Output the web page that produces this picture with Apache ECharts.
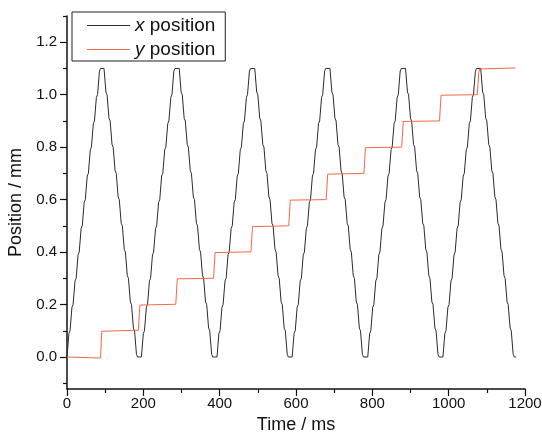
<!DOCTYPE html>
<html>
<head>
<meta charset="utf-8">
<script src="https://cdn.jsdelivr.net/npm/echarts@6/dist/echarts.min.js"></script>
<style>
html,body{margin:0;padding:0;background:#fff;}
#chart{width:542px;height:433px;}
</style>
</head>
<body>
<div id="chart"></div>
<script>
// ---- data ----
// x position: times (ms) of the kink points of each ramp (up, down, up, down ...)
const xRampTimes = [
  [0,5,8,13,16,21,24,29,32,37,40,45,48,53,56,61,64,69,72,77,80,85,88],
  [97,102,105,110,113,118,121,126,129,134,137,142,145,150,153,158,161,166,169,174,177,182,185],
  [195,200,203,208,211,216,219,224,227,232,235,240,243,248,251,256,259,264,267,272,275,280,283],
  [294,299,302,307,310,315,318,323,326,331,334,339,342,347,350,355,358,363,366,371,374,379,382],
  [393,398,401,406,409,414,417,422,425,430,433,438,441,446,449,454,457,462,465,470,473,478,481],
  [492,497,500,505,508,513,516,521,524,529,532,537,540,545,548,553,556,561,564,569,572,577,580],
  [590,595,598,603,606,611,614,619,622,627,630,635,638,643,646,651,654,659,662,667,670,675,678],
  [689,694,697,702,705,710,713,718,721,726,729,734,737,742,745,750,753,758,761,766,769,774,777],
  [788,793,796,801,804,809,812,817,820,825,828,833,836,841,844,849,852,857,860,865,868,873,876],
  [887,892,895,900,903,908,911,916,919,924,927,932,935,940,943,948,951,956,959,964,967,972,975],
  [985,990,993,998,1001,1006,1009,1014,1017,1022,1025,1030,1033,1038,1041,1046,1049,1054,1057,1062,1065,1070,1073],
  [1084,1089,1092,1097,1100,1105,1108,1113,1116,1121,1124,1129,1132,1137,1140,1145,1148,1153,1156,1161,1164,1169,1172]
];
// x position values (mm) at those kink points, for rising and falling ramps
const xLevelsUp = [0,0.09,0.1,0.19,0.2,0.29,0.3,0.39,0.4,0.49,0.5,0.59,0.6,0.69,0.7,0.79,0.8,0.89,0.9,0.99,1.0,1.09,1.1];
const xLevelsDown = [1.1,1.01,1.0,0.91,0.9,0.81,0.8,0.71,0.7,0.61,0.6,0.51,0.5,0.41,0.4,0.31,0.3,0.21,0.2,0.11,0.1,0.01,0];
const xEndPoint = [1177, 0];

// y position: [time ms, position mm]
const yPosition = [
  [0,0],[88,-0.004],[91,0.098],[187,0.102],[191,0.198],[285,0.201],[289,0.298],
  [384,0.3],[388,0.398],[482,0.401],[486,0.497],[581,0.5],[585,0.598],[679,0.6],
  [683,0.697],[778,0.7],[782,0.798],[877,0.8],[881,0.898],[976,0.9],[980,0.998],
  [1075,1.0],[1079,1.085],[1081,1.098],[1175,1.102]
];

const seriesNames = ['x position', 'y position'];
const xTicks = [0,200,400,600,800,1000,1200];
const yMajorTicks = [0,0.2,0.4,0.6,0.8,1.0,1.2];
const yMinorTicks = [-0.1,0.1,0.3,0.5,0.7,0.9,1.1,1.3];

// ---- build the x position table ----
const xPosition = [];
xRampTimes.forEach(function (times, k) {
  const levels = (k % 2 === 0) ? xLevelsUp : xLevelsDown;
  times.forEach(function (t, j) { xPosition.push([t, levels[j]]); });
});
xPosition.push(xEndPoint);

const FONT = '"Liberation Sans", Arial, sans-serif';
const LEGEND_LINE = 'path://M0,0h0.01v0.01h-0.01z M0,6.4h43v1.2h-43z M0,14h0.01v-0.01h-0.01z';
const chart = echarts.init(document.getElementById('chart'), null, {renderer: 'canvas'});
chart.setOption({
  animation: false,
  backgroundColor: '#ffffff',
  grid: {left: 67, right: 17, top: 16, bottom: 44, containLabel: false, outerBoundsMode: 'none'},
  legend: {
    orient: 'vertical',
    left: 72, top: 12,
    data: [{name: seriesNames[0], icon: LEGEND_LINE}, {name: seriesNames[1], icon: LEGEND_LINE}],
    borderColor: '#222',
    borderWidth: 1,
    padding: [4, 10, 2, 15],
    itemWidth: 43,
    itemHeight: 14,
    itemGap: 5,
    textStyle: {
      fontFamily: FONT, fontSize: 19, color: '#111', lineHeight: 19,
      rich: {it: {fontFamily: FONT, fontSize: 19, fontStyle: 'italic', color: '#111', lineHeight: 19}}
    },
    formatter: function (name) {
      const parts = name.split(' ');
      return '{it|' + parts[0] + '} ' + parts.slice(1).join(' ');
    }
  },
  xAxis: {
    type: 'value',
    min: 0, max: 1200, interval: 200,
    name: 'Time / ms',
    nameLocation: 'middle',
    nameGap: 21,
    nameTextStyle: {fontFamily: FONT, fontSize: 18, color: '#111'},
    axisLine: {show: true, onZero: false, lineStyle: {color: '#111', width: 1.5}},
    axisTick: {show: true, inside: false, length: 7, lineStyle: {color: '#111', width: 1.2}},
    minorTick: {show: true, splitNumber: 2, length: 4, lineStyle: {color: '#111', width: 1.2}},
    axisLabel: {fontFamily: FONT, fontSize: 15, color: '#111', margin: 7,
      customValues: xTicks,
      formatter: function (v) { return String(Math.round(v)); }},
    splitLine: {show: false}
  },
  yAxis: [{
    type: 'value',
    min: -0.122, max: 1.3,
    position: 'left',
    name: 'Position / mm',
    nameLocation: 'middle',
    nameGap: 36,
    nameTextStyle: {fontFamily: FONT, fontSize: 18, color: '#111'},
    axisLine: {show: true, onZero: false, lineStyle: {color: '#111', width: 1.5}},
    axisTick: {show: true, inside: false, length: 7, customValues: yMajorTicks, lineStyle: {color: '#111', width: 1.2}},
    axisLabel: {fontFamily: FONT, fontSize: 15, color: '#111', margin: 10,
      customValues: yMajorTicks,
      formatter: function (v) { return v.toFixed(1); }},
    splitLine: {show: false}
  }, {
    type: 'value',
    min: -0.122, max: 1.3,
    position: 'left',
    axisLine: {show: false},
    axisTick: {show: true, inside: false, length: 4, customValues: yMinorTicks, lineStyle: {color: '#111', width: 1.2}},
    axisLabel: {show: false},
    splitLine: {show: false}
  }],
  series: [{
    name: seriesNames[0],
    type: 'line',
    data: xPosition,
    symbol: 'none',
    lineStyle: {color: '#2b2b2b', width: 1},
    itemStyle: {color: '#2b2b2b'},
    z: 2
  }, {
    name: seriesNames[1],
    type: 'line',
    data: yPosition,
    symbol: 'none',
    lineStyle: {color: '#ef6a48', width: 1},
    itemStyle: {color: '#ef6a48'},
    z: 3
  }]
});
</script>
</body>
</html>
